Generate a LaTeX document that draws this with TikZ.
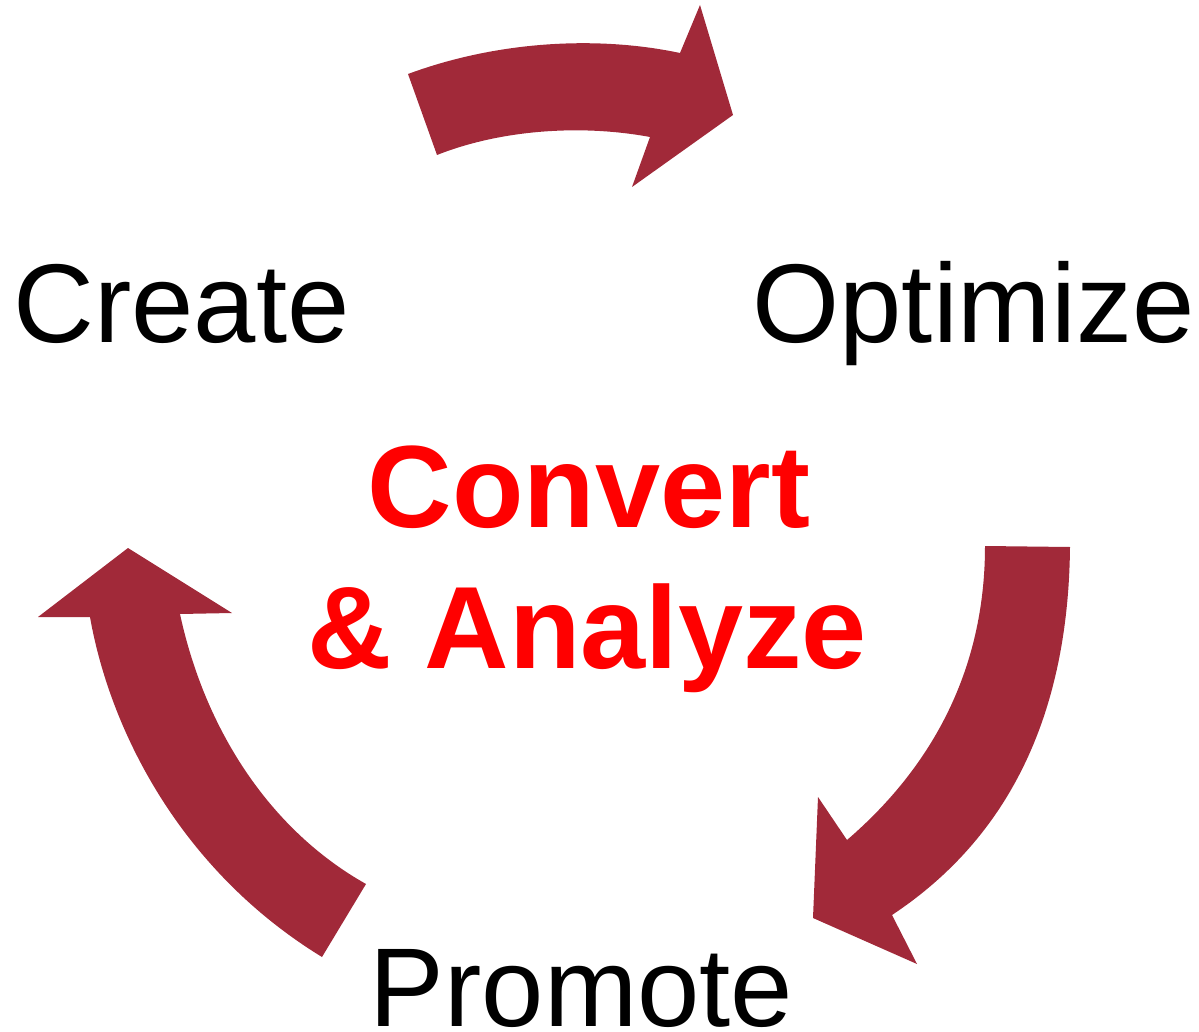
\documentclass[tikz,border=0pt]{standalone}
\usepackage{fontspec}
\setmainfont{Liberation Sans}
\begin{document}
\begin{tikzpicture}[x=1pt,y=-1pt,
  cyclearrow/.style={fill=arrowred,draw=none},
  stage/.style={inner sep=0pt,anchor=base,font=\fontsize{112}{130}\selectfont},
  hub/.style={inner sep=0pt,anchor=base,text=red,font=\fontsize{117}{136}\selectfont\bfseries}]
\definecolor{arrowred}{HTML}{A12939}
\useasboundingbox (0,0) rectangle (1199,1032);

% top arrow: Create -> Optimize
\fill[cyclearrow] (408,74) .. controls (500,40) and (600,36) .. (680,53)
  -- (700,5) -- (733,115) -- (632,187) -- (650,137)
  .. controls (580,124) and (500,130) .. (437,155) -- cycle;

% right arrow: Optimize -> Promote
\fill[cyclearrow] (985,546) -- (1070,547)
  .. controls (1068,740) and (990,850) .. (892,915)
  -- (917,964) -- (813,918) -- (818,797) -- (847,840)
  .. controls (940,760) and (985,660) .. cycle;

% left arrow: Promote -> Create
\fill[cyclearrow] (322,957) .. controls (180,870) and (110,730) .. (90,617)
  -- (38,617) -- (128,548) -- (232,613) -- (180,614)
  .. controls (205,730) and (270,830) .. (366,884) -- cycle;

\node[stage] (create) at (181.5,342) {Create};
\node[stage] (optimize) at (973.5,342) {Optimize};
\node[stage] (promote) at (581.5,1026) {Promote};
\node[hub] (convert) at (589,527) {Convert};
\node[hub] (analyze) at (587.5,668) {\& Analyze};
\end{tikzpicture}
\end{document}
